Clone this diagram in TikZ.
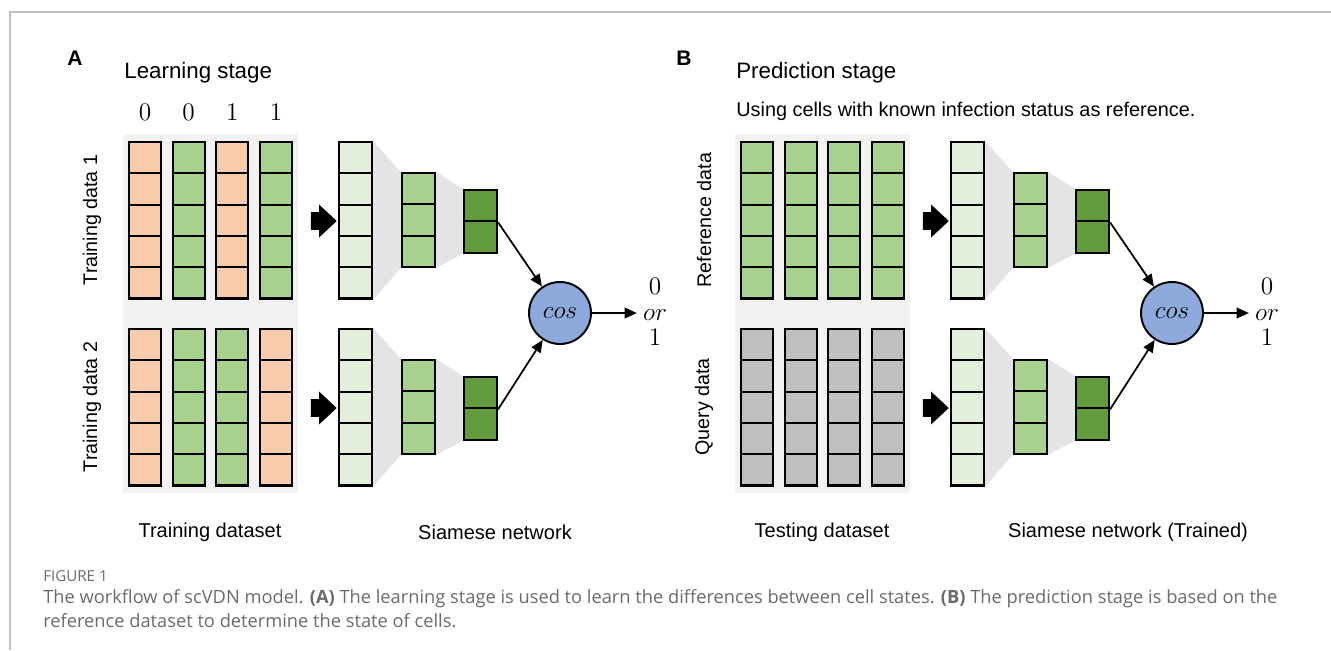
\documentclass[tikz,border=0pt]{standalone}
\usepackage{fontspec}
\setmainfont{Liberation Sans}
\newfontfamily\capfont{Open Sans}
\usetikzlibrary{shapes.arrows, positioning, arrows.meta, calc, backgrounds}

\definecolor{peach}{HTML}{F8CBAD}
\definecolor{leafgreen}{HTML}{A9D18E}
\definecolor{palegreen}{HTML}{E2EFDA}
\definecolor{darkleaf}{HTML}{629B3E}
\definecolor{cellgray}{HTML}{BFBFBF}
\definecolor{panelbg}{HTML}{F2F2F2}
\definecolor{funnelgray}{HTML}{E4E4E4}
\definecolor{cosblue}{HTML}{8EA9DB}
\definecolor{framegray}{HTML}{BFBFBF}
\definecolor{capgray}{HTML}{6B6B6B}

\begin{document}
\begin{tikzpicture}[
    x=0.02cm, y=-0.02cm,
    >={Triangle[length=7pt, width=6pt]},
    cell/.style={draw, line width=1.2pt, minimum width=0.64cm, minimum height=0.626cm, inner sep=0pt},
    unit/.style={cell, minimum width=0.66cm},
    bigarrow/.style={single arrow, fill=black, inner xsep=0pt, inner ysep=0.17cm, minimum width=0.64cm, minimum height=0.52cm, single arrow head extend=0.15cm, single arrow tip angle=86},
    cosnode/.style={circle, draw, line width=1.1pt, fill=cosblue, minimum size=1.24cm, inner sep=0pt, font=\fontsize{14.5}{17}\selectfont},
    panelname/.style={font=\fontsize{12}{14}\selectfont\bfseries},
    title/.style={anchor=west, inner sep=0pt, font=\fontsize{12.7}{15}\selectfont},
    subtitle/.style={anchor=west, inner sep=0pt, font=\fontsize{11.3}{13}\selectfont},
    sidetext/.style={rotate=90, font=\fontsize{11.2}{13}\selectfont},
    foottext/.style={font=\fontsize{11.4}{13}\selectfont},
    digit/.style={font=\fontsize{15}{16}\selectfont},
    capline/.style={anchor=base west, inner sep=0pt, text=capgray, font=\capfont\fontsize{10.4}{13.6}\selectfont}
]
    \useasboundingbox (0,0) rectangle (1331,650);
    \draw[framegray, line width=1.1pt] (1331,12) -- (10,12) -- (10,650);

    % Headings
    \node[panelname] (A) at (75,58) {A};
    \node[title] (learn) at (124,73) {Learning stage};
    \node[panelname] (B) at (684,58) {B};
    \node[title] (predict) at (736,73) {Prediction stage};
    \node[subtitle] (using) at (736,111) {Using cells with known infection status as reference.};

    % Datasets
    \fill[panelbg] (123,134) rectangle (298,493);
    \fill[panelbg] (735,134) rectangle (910,493);
    \foreach \c/\ca/\cb/\v in {1/peach/peach/0, 2/leafgreen/leafgreen/0, 3/peach/leafgreen/1, 4/leafgreen/peach/1} {
        \node[digit] (state-\c) at ({145+43.67*(\c-1)}, 112) {$\v$};
        \foreach \r in {1,...,5} {
            \node[cell, fill=\ca] (trainu-\c-\r) at ({145+43.67*(\c-1)}, {157.65+31.3*(\r-1)}) {};
            \node[cell, fill=\cb] (traind-\c-\r) at ({145+43.67*(\c-1)}, {344.65+31.3*(\r-1)}) {};
            \node[cell, fill=leafgreen] (testu-\c-\r) at ({757+43.67*(\c-1)}, {157.65+31.3*(\r-1)}) {};
            \node[cell, fill=cellgray] (testd-\c-\r) at ({757+43.67*(\c-1)}, {344.65+31.3*(\r-1)}) {};
        }
    }
    \node[sidetext] (tdata1) at (92,220) {Training data 1};
    \node[sidetext] (tdata2) at (92,407) {Training data 2};
    \node[sidetext] (refdata) at (704,220) {Reference data};
    \node[sidetext] (qdata) at (704,407) {Query data};

    % Siamese networks
    \foreach \p/\dx in {A/0, B/612} {
        \foreach \b/\dy in {u/0, d/187} {
            \node[bigarrow] (go\p\b) at ({319+\dx}, {221+\dy}) {};
            \foreach \r in {1,...,5}
                \node[unit, fill=palegreen] (n\p\b1-\r) at ({355.5+\dx}, {157.65+\dy+31.3*(\r-1)}) {};
            \foreach \r in {1,2,3}
                \node[unit, fill=leafgreen] (n\p\b2-\r) at ({418.5+\dx}, {188.65+\dy+31.3*(\r-1)}) {};
            \foreach \r in {1,2}
                \node[unit, fill=darkleaf] (n\p\b3-\r) at ({480.5+\dx}, {205.65+\dy+31.3*(\r-1)}) {};
            \begin{scope}[on background layer]
                \fill[funnelgray] (n\p\b1-1.north east) -- (n\p\b2-1.north west) -- (n\p\b2-3.south west) -- (n\p\b1-5.south east) -- cycle;
                \fill[funnelgray] (n\p\b2-1.north east) -- (n\p\b3-1.north west) -- (n\p\b3-2.south west) -- (n\p\b2-3.south east) -- cycle;
            \end{scope}
        }
        \node[cosnode] (cos\p) at ({560+\dx}, 313) {$cos$};
        \node[digit, align=center, font=\fontsize{15}{14.5}\selectfont] (out\p) at ({655+\dx}, 312) {$0$\\$or$\\$1$};
        \draw[->, line width=1pt] (n\p u3-1.south east) -- (cos\p);
        \draw[->, line width=1pt] (n\p d3-1.south east) -- (cos\p);
        \draw[->, line width=1pt] (cos\p) -- (cos\p -| out\p.west);
    }

    % Bottom labels
    \node[foottext] (trainset) at (210,532) {Training dataset};
    \node[foottext] (siamese) at (495,532) {Siamese network};
    \node[foottext] (testset) at (822,532) {Testing dataset};
    \node[foottext] (trained) at (1128,532) {Siamese network (Trained)};

    % Caption
    \node[capline, font=\capfont\fontsize{8.6}{10}\selectfont] (fig) at (43,581) {FIGURE 1};
    \node[capline] (capline1) at (43,603) {The workflow of scVDN model. \textbf{(A)} The learning stage is used to learn the differences between cell states. \textbf{(B)} The prediction stage is based on the};
    \node[capline] (capline2) at (43,627) {reference dataset to determine the state of cells.};
\end{tikzpicture}
\end{document}
